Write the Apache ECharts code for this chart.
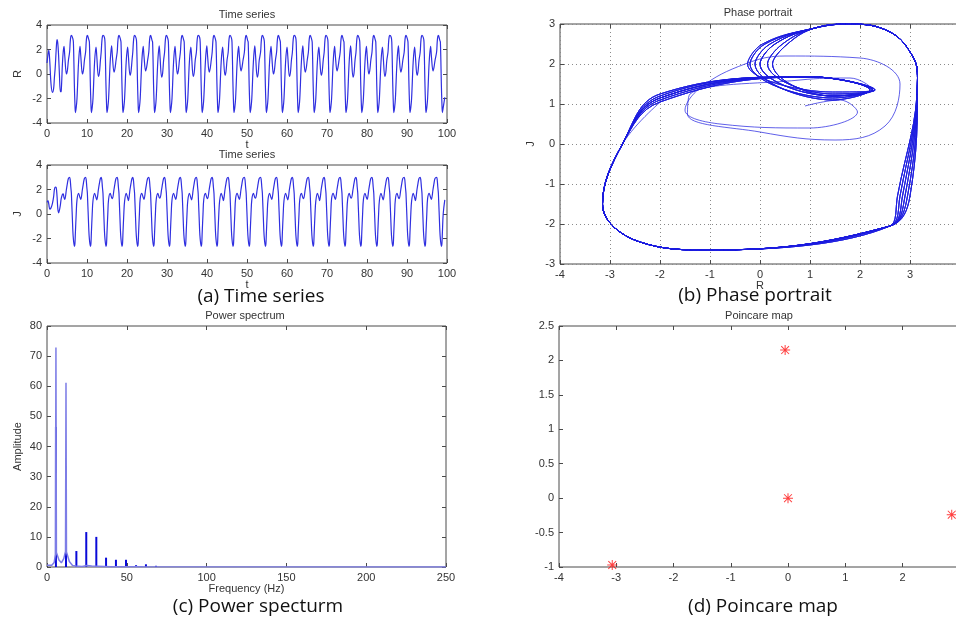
<!DOCTYPE html>
<html>
<head>
<meta charset="utf-8">
<script src="https://cdn.jsdelivr.net/npm/echarts@6/dist/echarts.min.js"></script>
<style>
html,body{margin:0;padding:0;background:#fff;}
#chart{width:956px;height:621px;}
</style>
</head>
<body>
<div id="chart"></div>
<script>
// ---- time series samples (t, R, J) ----
const tValues = [
  0,0.25,0.45,0.7,1.0,1.35,1.65,1.85,2.05,2.3,2.5,2.7,2.9,3.1,3.35,3.55,3.85,4.05,4.25,4.45,4.85,5.1,5.35,
  5.65,5.80,5.95,6.10,6.45,6.60,6.85,6.98,7.10,7.30,7.50,7.90,8.25,8.45,8.85,9.10,9.35,
  9.65,9.80,9.95,10.10,10.45,10.60,10.85,10.98,11.10,11.30,11.50,11.90,12.25,12.45,12.85,13.10,13.35,
  13.55,13.70,13.85,14.00,14.35,14.50,14.75,14.88,15.00,15.20,15.40,15.80,16.15,16.35,16.75,17.00,17.25,
  17.55,17.70,17.85,18.00,18.35,18.50,18.75,18.88,19.00,19.20,19.40,19.80,20.15,20.35,20.75,21.00,21.25,
  21.45,21.60,21.75,21.90,22.25,22.40,22.65,22.78,22.90,23.10,23.30,23.70,24.05,24.25,24.65,24.90,25.15,
  25.45,25.60,25.75,25.90,26.25,26.40,26.65,26.78,26.90,27.10,27.30,27.70,28.05,28.25,28.65,28.90,29.15,
  29.40,29.55,29.70,29.85,30.20,30.35,30.60,30.73,30.85,31.05,31.25,31.65,32.00,32.20,32.60,32.85,33.10,
  33.35,33.50,33.65,33.80,34.15,34.30,34.55,34.68,34.80,35.00,35.20,35.60,35.95,36.15,36.55,36.80,37.05,
  37.35,37.50,37.65,37.80,38.15,38.30,38.55,38.68,38.80,39.00,39.20,39.60,39.95,40.15,40.55,40.80,41.05,
  41.30,41.45,41.60,41.75,42.10,42.25,42.50,42.63,42.75,42.95,43.15,43.55,43.90,44.10,44.50,44.75,45.00,
  45.30,45.45,45.60,45.75,46.10,46.25,46.50,46.63,46.75,46.95,47.15,47.55,47.90,48.10,48.50,48.75,49.00,
  49.35,49.50,49.65,49.80,50.15,50.30,50.55,50.68,50.80,51.00,51.20,51.60,51.95,52.15,52.55,52.80,53.05,
  53.40,53.55,53.70,53.85,54.20,54.35,54.60,54.73,54.85,55.05,55.25,55.65,56.00,56.20,56.60,56.85,57.10,
  57.40,57.55,57.70,57.85,58.20,58.35,58.60,58.73,58.85,59.05,59.25,59.65,60.00,60.20,60.60,60.85,61.10,
  61.35,61.50,61.65,61.80,62.15,62.30,62.55,62.68,62.80,63.00,63.20,63.60,63.95,64.15,64.55,64.80,65.05,
  65.35,65.50,65.65,65.80,66.15,66.30,66.55,66.68,66.80,67.00,67.20,67.60,67.95,68.15,68.55,68.80,69.05,
  69.30,69.45,69.60,69.75,70.10,70.25,70.50,70.63,70.75,70.95,71.15,71.55,71.90,72.10,72.50,72.75,73.00,
  73.30,73.45,73.60,73.75,74.10,74.25,74.50,74.63,74.75,74.95,75.15,75.55,75.90,76.10,76.50,76.75,77.00,
  77.25,77.40,77.55,77.70,78.05,78.20,78.45,78.58,78.70,78.90,79.10,79.50,79.85,80.05,80.45,80.70,80.95,
  81.25,81.40,81.55,81.70,82.05,82.20,82.45,82.58,82.70,82.90,83.10,83.50,83.85,84.05,84.45,84.70,84.95,
  85.25,85.40,85.55,85.70,86.05,86.20,86.45,86.58,86.70,86.90,87.10,87.50,87.85,88.05,88.45,88.70,88.95,
  89.30,89.45,89.60,89.75,90.10,90.25,90.50,90.63,90.75,90.95,91.15,91.55,91.90,92.10,92.50,92.75,93.00,
  93.30,93.45,93.60,93.75,94.10,94.25,94.50,94.63,94.75,94.95,95.15,95.55,95.90,96.10,96.50,96.75,97.00,
  97.40,97.55,97.70,97.85,98.20,98.35,98.60,98.73,98.85,99.05,99.45
];
const rValues = [
  0.9,1.6,1.95,1.0,-0.8,-1.5,-1.2,-0.3,0.5,2.0,2.8,2.5,1.5,0.0,-1.45,-1.4,0.8,1.8,2.25,1.45,0.0,0.3,1.1,
  1.8,2.6,3.05,3.15,2.9,2.6,-1.0,-2.4,-3.15,-2.75,-2.0,1.0,2.25,1.45,0.0,0.3,1.1,
  1.8,2.6,3.05,3.15,2.8,2.6,-1.0,-2.4,-3.15,-2.75,-2.0,1.0,2.2,1.45,-0.2,0.1,1.1,
  1.8,2.6,3.05,3.15,3.0,2.6,-1.0,-2.4,-3.15,-2.75,-2.0,1.0,2.3,1.45,0.15,0.45,1.1,
  1.8,2.6,3.05,3.15,2.85,2.6,-1.0,-2.4,-3.15,-2.75,-2.0,1.0,2.2,1.45,-0.1,0.2,1.1,
  1.8,2.6,3.05,3.15,2.95,2.6,-1.0,-2.4,-3.15,-2.75,-2.0,1.0,2.25,1.45,0.25,0.55,1.1,
  1.8,2.6,3.05,3.15,2.75,2.6,-1.0,-2.4,-3.15,-2.75,-2.0,1.0,2.3,1.45,-0.25,0.05,1.1,
  1.8,2.6,3.05,3.15,2.9,2.6,-1.0,-2.4,-3.15,-2.75,-2.0,1.0,2.25,1.45,0.0,0.3,1.1,
  1.8,2.6,3.05,3.15,2.8,2.6,-1.0,-2.4,-3.15,-2.75,-2.0,1.0,2.2,1.45,-0.2,0.1,1.1,
  1.8,2.6,3.05,3.15,3.0,2.6,-1.0,-2.4,-3.15,-2.75,-2.0,1.0,2.3,1.45,0.15,0.45,1.1,
  1.8,2.6,3.05,3.15,2.85,2.6,-1.0,-2.4,-3.15,-2.75,-2.0,1.0,2.2,1.45,-0.1,0.2,1.1,
  1.8,2.6,3.05,3.15,2.95,2.6,-1.0,-2.4,-3.15,-2.75,-2.0,1.0,2.25,1.45,0.25,0.55,1.1,
  1.8,2.6,3.05,3.15,2.75,2.6,-1.0,-2.4,-3.15,-2.75,-2.0,1.0,2.3,1.45,-0.25,0.05,1.1,
  1.8,2.6,3.05,3.15,2.9,2.6,-1.0,-2.4,-3.15,-2.75,-2.0,1.0,2.25,1.45,0.0,0.3,1.1,
  1.8,2.6,3.05,3.15,2.8,2.6,-1.0,-2.4,-3.15,-2.75,-2.0,1.0,2.2,1.45,-0.2,0.1,1.1,
  1.8,2.6,3.05,3.15,3.0,2.6,-1.0,-2.4,-3.15,-2.75,-2.0,1.0,2.3,1.45,0.15,0.45,1.1,
  1.8,2.6,3.05,3.15,2.85,2.6,-1.0,-2.4,-3.15,-2.75,-2.0,1.0,2.2,1.45,-0.1,0.2,1.1,
  1.8,2.6,3.05,3.15,2.95,2.6,-1.0,-2.4,-3.15,-2.75,-2.0,1.0,2.25,1.45,0.25,0.55,1.1,
  1.8,2.6,3.05,3.15,2.75,2.6,-1.0,-2.4,-3.15,-2.75,-2.0,1.0,2.3,1.45,-0.25,0.05,1.1,
  1.8,2.6,3.05,3.15,2.9,2.6,-1.0,-2.4,-3.15,-2.75,-2.0,1.0,2.25,1.45,0.0,0.3,1.1,
  1.8,2.6,3.05,3.15,2.8,2.6,-1.0,-2.4,-3.15,-2.75,-2.0,1.0,2.2,1.45,-0.2,0.1,1.1,
  1.8,2.6,3.05,3.15,3.0,2.6,-1.0,-2.4,-3.15,-2.75,-2.0,1.0,2.3,1.45,0.15,0.45,1.1,
  1.8,2.6,3.05,3.15,2.85,2.6,-1.0,-2.4,-3.15,-2.75,-2.0,1.0,2.2,1.45,-0.1,0.2,1.1,
  1.8,2.6,3.05,3.15,2.95,2.6,-1.0,-2.4,-3.15,-2.75,-2.0,1.0,2.25,1.45,0.25,0.55,1.1,
  1.8,2.6,3.05,3.15,2.75,2.6,-1.0,-2.4,-3.15,-2.75,-1.9
];
const jValues = [
  0.95,1.1,0.8,0.4,0.5,0.85,1.4,2.0,2.2,2.15,1.5,0.45,0.1,0.3,0.75,1.25,1.6,1.65,1.35,1.2,2.0,2.5,2.9,
  3.0,2.8,2.2,1.65,-1.3,-2.05,-2.65,-2.45,-1.5,0.0,1.15,1.68,1.35,1.2,2.0,2.5,2.9,
  3.0,2.8,2.2,1.65,-1.3,-2.05,-2.65,-2.45,-1.5,0.0,1.1,1.68,1.35,1.15,2.0,2.5,2.9,
  3.0,2.8,2.2,1.65,-1.3,-2.05,-2.65,-2.45,-1.5,0.0,1.2,1.68,1.35,1.25,2.0,2.5,2.9,
  3.0,2.8,2.2,1.65,-1.3,-2.05,-2.65,-2.45,-1.5,0.0,1.05,1.68,1.35,1.1,2.0,2.5,2.9,
  3.0,2.8,2.2,1.65,-1.3,-2.05,-2.65,-2.45,-1.5,0.0,1.25,1.68,1.35,1.2,2.0,2.5,2.9,
  3.0,2.8,2.2,1.65,-1.3,-2.05,-2.65,-2.45,-1.5,0.0,1.15,1.68,1.35,1.3,2.0,2.5,2.9,
  3.0,2.8,2.2,1.65,-1.3,-2.05,-2.65,-2.45,-1.5,0.0,1.15,1.68,1.35,1.2,2.0,2.5,2.9,
  3.0,2.8,2.2,1.65,-1.3,-2.05,-2.65,-2.45,-1.5,0.0,1.1,1.68,1.35,1.15,2.0,2.5,2.9,
  3.0,2.8,2.2,1.65,-1.3,-2.05,-2.65,-2.45,-1.5,0.0,1.2,1.68,1.35,1.25,2.0,2.5,2.9,
  3.0,2.8,2.2,1.65,-1.3,-2.05,-2.65,-2.45,-1.5,0.0,1.05,1.68,1.35,1.1,2.0,2.5,2.9,
  3.0,2.8,2.2,1.65,-1.3,-2.05,-2.65,-2.45,-1.5,0.0,1.25,1.68,1.35,1.2,2.0,2.5,2.9,
  3.0,2.8,2.2,1.65,-1.3,-2.05,-2.65,-2.45,-1.5,0.0,1.15,1.68,1.35,1.3,2.0,2.5,2.9,
  3.0,2.8,2.2,1.65,-1.3,-2.05,-2.65,-2.45,-1.5,0.0,1.15,1.68,1.35,1.2,2.0,2.5,2.9,
  3.0,2.8,2.2,1.65,-1.3,-2.05,-2.65,-2.45,-1.5,0.0,1.1,1.68,1.35,1.15,2.0,2.5,2.9,
  3.0,2.8,2.2,1.65,-1.3,-2.05,-2.65,-2.45,-1.5,0.0,1.2,1.68,1.35,1.25,2.0,2.5,2.9,
  3.0,2.8,2.2,1.65,-1.3,-2.05,-2.65,-2.45,-1.5,0.0,1.05,1.68,1.35,1.1,2.0,2.5,2.9,
  3.0,2.8,2.2,1.65,-1.3,-2.05,-2.65,-2.45,-1.5,0.0,1.25,1.68,1.35,1.2,2.0,2.5,2.9,
  3.0,2.8,2.2,1.65,-1.3,-2.05,-2.65,-2.45,-1.5,0.0,1.15,1.68,1.35,1.3,2.0,2.5,2.9,
  3.0,2.8,2.2,1.65,-1.3,-2.05,-2.65,-2.45,-1.5,0.0,1.15,1.68,1.35,1.2,2.0,2.5,2.9,
  3.0,2.8,2.2,1.65,-1.3,-2.05,-2.65,-2.45,-1.5,0.0,1.1,1.68,1.35,1.15,2.0,2.5,2.9,
  3.0,2.8,2.2,1.65,-1.3,-2.05,-2.65,-2.45,-1.5,0.0,1.2,1.68,1.35,1.25,2.0,2.5,2.9,
  3.0,2.8,2.2,1.65,-1.3,-2.05,-2.65,-2.45,-1.5,0.0,1.05,1.68,1.35,1.1,2.0,2.5,2.9,
  3.0,2.8,2.2,1.65,-1.3,-2.05,-2.65,-2.45,-1.5,0.0,1.25,1.68,1.35,1.2,2.0,2.5,2.9,
  3.0,2.8,2.2,1.65,-1.3,-2.05,-2.65,-2.45,-1.5,0.0,1.15
];

// ---- power spectrum ----
const specFreq = [0, 3, 4.5, 5.3, 5.6, 5.9, 7.5, 9, 10.5, 11.6, 11.9, 12.2, 14, 16, 18, 22, 25, 28, 40, 60, 250];
const specAmp  = [0.6, 0.6, 1.5, 4.2, 72.9, 4.8, 2.3, 1.4, 2.8, 5.2, 61.2, 5.0, 1.8, 0.5, 0.3, 0.2, 0.5, 0.3, 0.1, 0.05, 0];
const peakFreq = [5.6, 11.9, 18.4, 24.6, 30.9, 37.0, 43.2, 49.5, 55.8, 62.0, 68.3];
const peakAmp  = [46.5, 28.8, 5.3, 11.6, 10.0, 3.1, 2.4, 2.4, 0.6, 0.9, 0.4];

// ---- Poincare map ----
const poincareR = [-0.05, 0.0, -3.07, 2.86];
const poincareJ = [2.15, 0.0, -0.97, -0.24];

// ---- captions / titles ----
const panelTitles = ['Time series', 'Time series', 'Phase portrait', 'Power spectrum', 'Poincare map'];
const captions = ['(a) Time series', '(b) Phase portrait', '(c) Power specturm', '(d) Poincare map'];

const AX_FONT = 'Liberation Sans, Arial, sans-serif';
const LBL = {color: '#333', fontSize: 11, fontFamily: AX_FONT};

const chart = echarts.init(document.getElementById('chart'), null, {renderer: 'canvas'});

const grids = [
  {left: 47, top: 25, width: 400, height: 98},
  {left: 47, top: 165, width: 400, height: 98},
  {left: 560, top: 24, width: 400, height: 240},
  {left: 47, top: 326, width: 399, height: 241},
  {left: 559, top: 326, width: 458, height: 241}
].map(g => Object.assign({show: true, borderColor: '#4a4a4a', borderWidth: 1, backgroundColor: '#fff',
  containLabel: false, outerBoundsMode: 'none'}, g));

const xAxes = [], yAxes = [];
function addAxes(g, xs, ys, grid) {
  const tick = {show: true, inside: true, length: 4, lineStyle: {color: '#4a4a4a'}};
  const split = grid ? {show: true, lineStyle: {color: '#8a8a8a', type: [1, 3], width: 1}} : {show: false};
  const xi = xAxes.length, yi = yAxes.length;
  xAxes.push({
    gridIndex: g, type: 'value', position: 'bottom', min: xs.min, max: xs.max, interval: xs.interval,
    axisLine: {show: false, onZero: false}, axisTick: tick, splitLine: split,
    axisLabel: Object.assign({margin: 5, showMinLabel: true, showMaxLabel: true}, LBL),
    name: xs.name || '', nameLocation: 'middle', nameGap: xs.nameGap || 15,
    nameTextStyle: {color: '#333', fontSize: 11, fontFamily: AX_FONT}
  });
  xAxes.push({gridIndex: g, type: 'value', position: 'top', min: xs.min, max: xs.max, interval: xs.interval,
    axisLine: {show: false, onZero: false}, axisTick: tick, axisLabel: {show: false}, splitLine: {show: false}});
  yAxes.push({
    gridIndex: g, type: 'value', position: 'left', min: ys.min, max: ys.max, interval: ys.interval,
    axisLine: {show: false, onZero: false}, axisTick: tick, splitLine: split,
    axisLabel: Object.assign({margin: 5, showMinLabel: true, showMaxLabel: true}, LBL),
    name: ys.name || '', nameLocation: 'middle', nameGap: ys.nameGap || 24, nameRotate: 90,
    nameTextStyle: {color: '#333', fontSize: 11, fontFamily: AX_FONT}
  });
  yAxes.push({gridIndex: g, type: 'value', position: 'right', min: ys.min, max: ys.max, interval: ys.interval,
    axisLine: {show: false, onZero: false}, axisTick: tick, axisLabel: {show: false}, splitLine: {show: false}});
  return {x: xi, y: yi};
}

const a0 = addAxes(0, {min: 0, max: 100, interval: 10, name: 't', nameGap: 14}, {min: -4, max: 4, interval: 2, name: 'R', nameGap: 24});
const a1 = addAxes(1, {min: 0, max: 100, interval: 10, name: 't', nameGap: 14}, {min: -4, max: 4, interval: 2, name: 'J', nameGap: 24});
const a2 = addAxes(2, {min: -4, max: 4, interval: 1, name: 'R', nameGap: 14}, {min: -3, max: 3, interval: 1, name: 'J', nameGap: 24}, true);
const a3 = addAxes(3, {min: 0, max: 250, interval: 50, name: 'Frequency (Hz)', nameGap: 14}, {min: 0, max: 80, interval: 10, name: 'Amplitude', nameGap: 24});
const a4 = addAxes(4, {min: -4, max: 4, interval: 1}, {min: -1, max: 2.5, interval: 0.5});

const tsR = tValues.map((t, i) => [t, rValues[i]]);
const tsJ = tValues.map((t, i) => [t, jValues[i]]);
const phase = tValues.map((t, i) => [rValues[i], jValues[i]]);
const spec = specFreq.map((f, i) => [f, specAmp[i]]);
const peaks = peakFreq.map((f, i) => [f, peakAmp[i]]);
const pmap = poincareR.map((r, i) => [r, poincareJ[i]]);

const asterisk = 'path://M9,0L11,0L11,20L9,20Z M0,9L20,9L20,11L0,11Z M2.9,1.5L18.5,17.1L17.1,18.5L1.5,2.9Z M17.1,1.5L18.5,2.9L2.9,18.5L1.5,17.1Z';

const option = {
  animation: false,
  backgroundColor: '#fff',
  grid: grids,
  xAxis: xAxes,
  yAxis: yAxes,
  series: [
    {type: 'line', xAxisIndex: a0.x, yAxisIndex: a0.y, data: tsR, smooth: 0.35, showSymbol: false,
     lineStyle: {color: '#2f2fe0', width: 1.2}},
    {type: 'line', xAxisIndex: a1.x, yAxisIndex: a1.y, data: tsJ, smooth: 0.35, showSymbol: false,
     lineStyle: {color: '#2f2fe0', width: 1.2}},
    {type: 'line', xAxisIndex: a2.x, yAxisIndex: a2.y, data: phase, smooth: 0.4, showSymbol: false,
     lineStyle: {color: '#1c1ce0', width: 1, opacity: 0.7}},
    {type: 'line', xAxisIndex: a3.x, yAxisIndex: a3.y, data: spec, showSymbol: false,
     lineStyle: {color: '#7d7de6', width: 1.5}},
    {type: 'bar', xAxisIndex: a3.x, yAxisIndex: a3.y, data: peaks, barWidth: 2,
     itemStyle: {color: '#0a0ad8'}},
    {type: 'scatter', xAxisIndex: a4.x, yAxisIndex: a4.y, data: pmap, symbol: asterisk, symbolSize: 10,
     itemStyle: {color: '#ff1010'}}
  ],
  graphic: [
    ...[[247, 15], [247, 155], [758, 13], [245, 316], [759, 316]].map((p, i) => ({
      type: 'text', x: p[0], y: p[1],
      style: {text: panelTitles[i], fill: '#333', font: '11px ' + AX_FONT, textAlign: 'center', textVerticalAlign: 'middle'}
    })),
    ...[[261, 297], [755, 296], [258, 607], [763, 607]].map((p, i) => ({
      type: 'text', x: p[0], y: p[1],
      style: {text: captions[i], fill: '#111', font: '19px "Open Sans", Lato, sans-serif', textAlign: 'center', textVerticalAlign: 'middle'}
    }))
  ]
};
chart.setOption(option);
</script>
</body>
</html>
